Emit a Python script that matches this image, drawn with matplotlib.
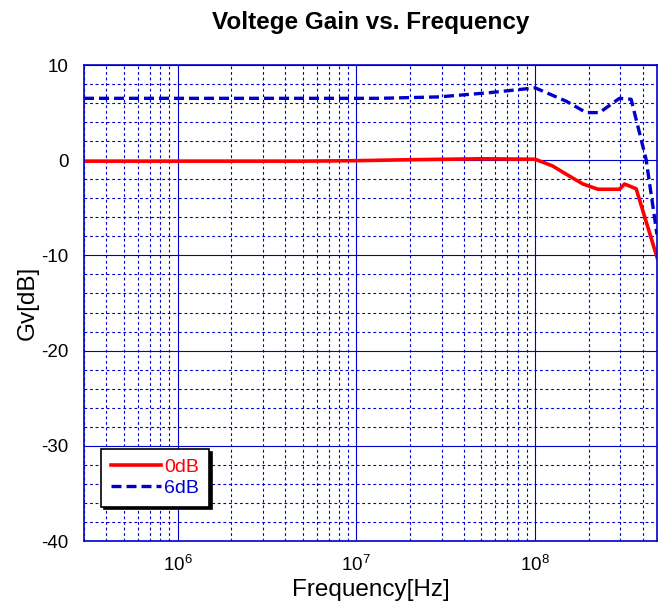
import matplotlib.pyplot as plt
from matplotlib.ticker import LogLocator, MultipleLocator, NullFormatter

plt.rcParams['font.family'] = ['Liberation Sans', 'DejaVu Sans']
plt.rcParams['axes.unicode_minus'] = False

# frequency [Hz] and gain [dB]
freq_0db = [3e5, 1e6, 5e6, 1e7, 2e7, 5e7, 1e8, 1.25e8, 1.5e8, 1.85e8, 2.24e8, 2.96e8, 3.16e8, 3.67e8, 4.8e8]
gain_0db = [-0.1, -0.1, -0.1, -0.05, 0.05, 0.15, 0.1, -0.6, -1.5, -2.5, -3.05, -3.05, -2.5, -3.0, -10.2]

freq_6db = [3e5, 1e6, 5e6, 1.35e7, 2.9e7, 5.6e7, 1e8, 1.49e8, 1.93e8, 2.29e8, 2.96e8, 3.44e8, 4.17e8, 4.8e8]
gain_6db = [6.5, 6.5, 6.5, 6.5, 6.65, 7.1, 7.6, 6.2, 5.0, 5.0, 6.5, 6.4, 0.1, -7.8]

grid_col = '#0000cc'

fig = plt.figure(figsize=(6.58, 6.12), dpi=100)
ax = fig.add_axes([84/658, 1 - 541/612, 573/658, 476/612])

ax.plot(freq_0db, gain_0db, color='#ff0000', lw=2.6, label='0dB')
ax.plot(freq_6db, gain_6db, color='#0000cc', lw=2.4, ls=(0, (3, 1.5)), label='6dB')

ax.set_xscale('log')
ax.set_xlim(3e5, 4.8e8)
ax.set_ylim(-40, 10)
ax.xaxis.set_major_locator(LogLocator(base=10, numticks=10))
ax.xaxis.set_minor_locator(LogLocator(base=10, subs=range(2, 10), numticks=20))
ax.xaxis.set_minor_formatter(NullFormatter())
ax.yaxis.set_major_locator(MultipleLocator(10))
ax.yaxis.set_minor_locator(MultipleLocator(2))

ax.grid(which='major', color=grid_col, lw=0.8, ls='-')
ax.grid(which='minor', color=grid_col, lw=0.8, ls=(0, (2.5, 2.5)))
ax.set_axisbelow(True)
for s in ax.spines.values():
    s.set_color(grid_col)
    s.set_linewidth(1.2)
ax.tick_params(which='both', length=0, labelsize=13.5)
ax.tick_params(axis='y', pad=11)
ax.tick_params(axis='x', pad=10)

ax.set_title('Voltege Gain vs. Frequency', fontsize=17.5, fontweight='bold', pad=26)
ax.set_xlabel('Frequency[Hz]', fontsize=17.5, labelpad=3)
ax.set_ylabel('Gv[dB]', fontsize=17.5, labelpad=2)

leg = ax.legend(loc='lower left', bbox_to_anchor=(0.013, 0.052), fontsize=14,
                handlelength=2.6, handletextpad=0.15, borderpad=0.5, labelspacing=0.15,
                fancybox=False, shadow={'color': 'black', 'alpha': 1}, framealpha=1)
leg.get_frame().set_edgecolor('black')
leg.get_frame().set_linewidth(1.2)
for t, c in zip(leg.get_texts(), ['#ff0000', '#0000cc']):
    t.set_color(c)

fig.savefig('out.png', dpi=100)
